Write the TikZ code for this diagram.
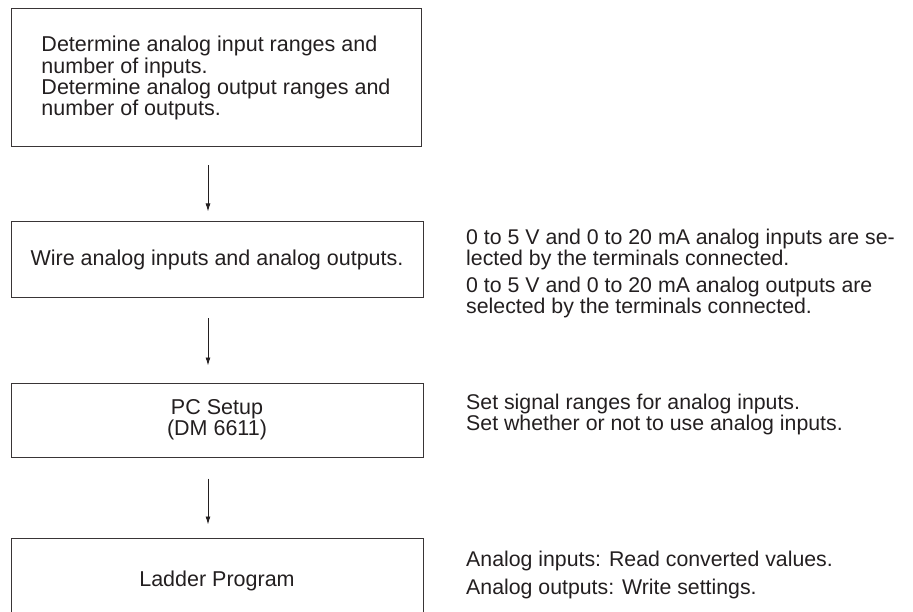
\documentclass[tikz,border=0pt]{standalone}
\usepackage{fontspec}
\setmainfont{Liberation Sans}
\usetikzlibrary{arrows.meta}
\definecolor{ink}{HTML}{231F20}
\begin{document}
\begin{tikzpicture}[x=1pt,y=-1pt,
  box/.style={draw=ink!90,line width=1pt,rectangle,inner sep=0pt,text=ink,
    font=\fontsize{21.5}{18}\selectfont,minimum width=412pt},
  note/.style={anchor=north west,inner sep=0pt,text=ink,align=left,
    font=\fontsize{21.3}{18.5}\selectfont},
  arr/.style={draw=ink,line width=0.9pt,-{Latex[length=8pt,width=5pt]}}]
\useasboundingbox (0,0) rectangle (913,612);
\node[box,minimum width=410pt,minimum height=138pt,align=left] (b1) at (216,78)
  {Determine analog input ranges and\\number of inputs.\\Determine analog output ranges and\\number of outputs.};
\node[box,minimum height=76pt] (b2) at (217,260) {Wire analog inputs and analog outputs.};
\node[box,minimum height=74pt,align=center,font=\fontsize{21.5}{20}\selectfont] (b3) at (217,420) {PC Setup\\(DM 6611)};
\node[box,minimum height=86pt] (b4) at (217,581) {Ladder Program};
\draw[arr] ([xshift=-8pt,yshift=-18pt]b1.south) -- ([xshift=-9pt,yshift=10pt]b2.north);
\draw[arr] ([xshift=-9pt,yshift=-20pt]b2.south) -- ([xshift=-9pt,yshift=17pt]b3.north);
\draw[arr] ([xshift=-9pt,yshift=-21pt]b3.south) -- ([xshift=-9pt,yshift=13pt]b4.north);
\node[note] (t2a) at (466,229.3) {0 to 5 V and 0 to 20 mA analog inputs are se-\\lected by the terminals connected.};
\node[note] (t2b) at (466,277.3) {0 to 5 V and 0 to 20 mA analog outputs are\\selected by the terminals connected.};
\node[note] (t3) at (466,394.3) {Set signal ranges for analog inputs.\\Set whether or not to use analog inputs.};
\node[note] (t4a) at (466,551.3) {Analog inputs: Read converted values.};
\node[note] (t4b) at (466,579.3) {Analog outputs: Write settings.};
\end{tikzpicture}
\end{document}
